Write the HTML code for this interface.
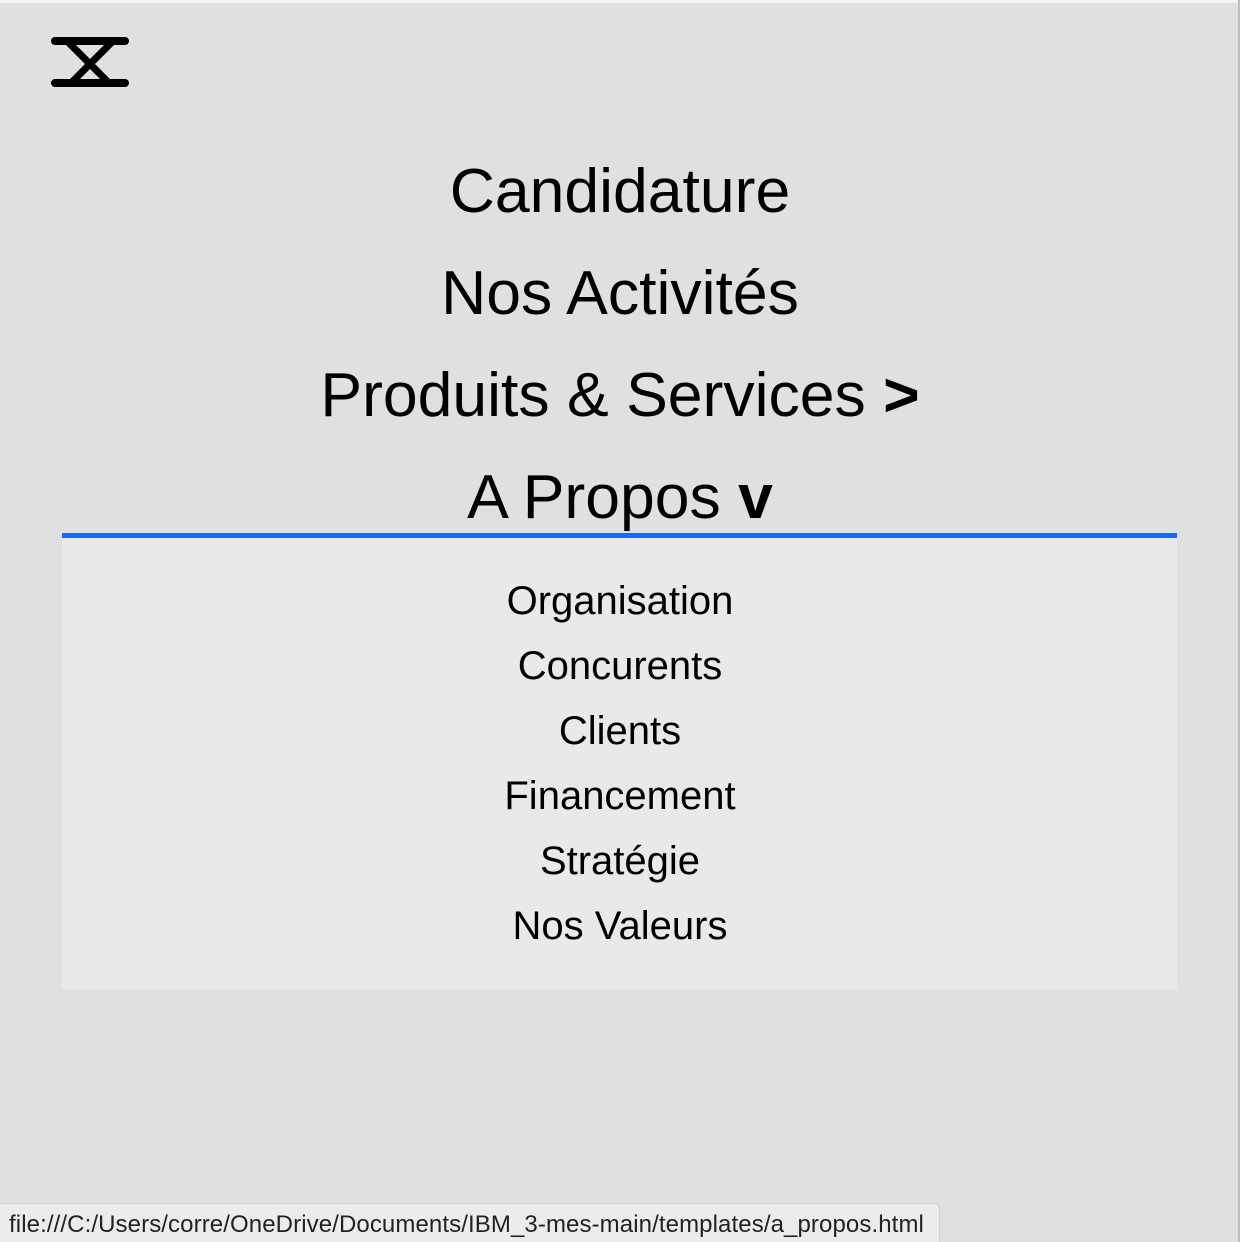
<!DOCTYPE html>
<html><head><meta charset="utf-8"><style>
html,body{margin:0;padding:0;width:1240px;height:1242px;overflow:hidden;background:#e0e0e0;font-family:"Liberation Sans",Arial,sans-serif;color:#000;position:relative}
.top{position:absolute;left:0;top:0;width:1240px;height:3px;background:#f4f4f4}
.right{position:absolute;left:1238px;top:0;width:2px;height:1242px;background:#bdbdbd}
.nav{position:absolute;left:0;width:1240px;text-align:center;font-size:62.5px;line-height:70px}
.line{position:absolute;left:62px;top:533px;width:1115px;height:5px;background:#1a66ff}
.panel{position:absolute;left:62px;top:538px;width:1115px;height:451px;background:#e9e9e9}
.sub{position:absolute;left:0;width:1240px;text-align:center;font-size:40px;line-height:44px}
.status{position:absolute;left:0;top:1203px;width:940px;height:39px;background:#ececef;border:1px solid #cfcfd4;border-left:none;border-bottom:none;border-radius:0 6px 0 0;box-sizing:border-box;font-size:24px;color:#222;padding:7px 0 0 9px;white-space:nowrap;letter-spacing:0.1px}
</style></head><body>
<div class="top"></div><div class="right"></div>
<svg style="position:absolute;left:0;top:0" width="200" height="120">
<g stroke="#000" stroke-linecap="round" fill="none">
<line x1="55" y1="41" x2="125" y2="41" stroke-width="8"/>
<line x1="55" y1="83" x2="125" y2="83" stroke-width="8"/>
<line x1="68" y1="42" x2="108" y2="82" stroke-width="7"/>
<line x1="112" y1="42" x2="72" y2="82" stroke-width="7"/>
</g></svg>
<div class="nav" style="top:156px">Candidature</div>
<div class="nav" style="top:258px">Nos Activités</div>
<div class="nav" style="top:360px">Produits &amp; Services <b>&gt;</b></div>
<div class="nav" style="top:462px">A Propos <b>v</b></div>
<div class="line"></div>
<div class="panel"></div>
<div class="sub" style="top:579px">Organisation</div>
<div class="sub" style="top:644px">Concurents</div>
<div class="sub" style="top:709px">Clients</div>
<div class="sub" style="top:774px">Financement</div>
<div class="sub" style="top:839px">Stratégie</div>
<div class="sub" style="top:904px">Nos Valeurs</div>
<div class="status">file:///C:/Users/corre/OneDrive/Documents/IBM_3-mes-main/templates/a_propos.html</div>
</body></html>
